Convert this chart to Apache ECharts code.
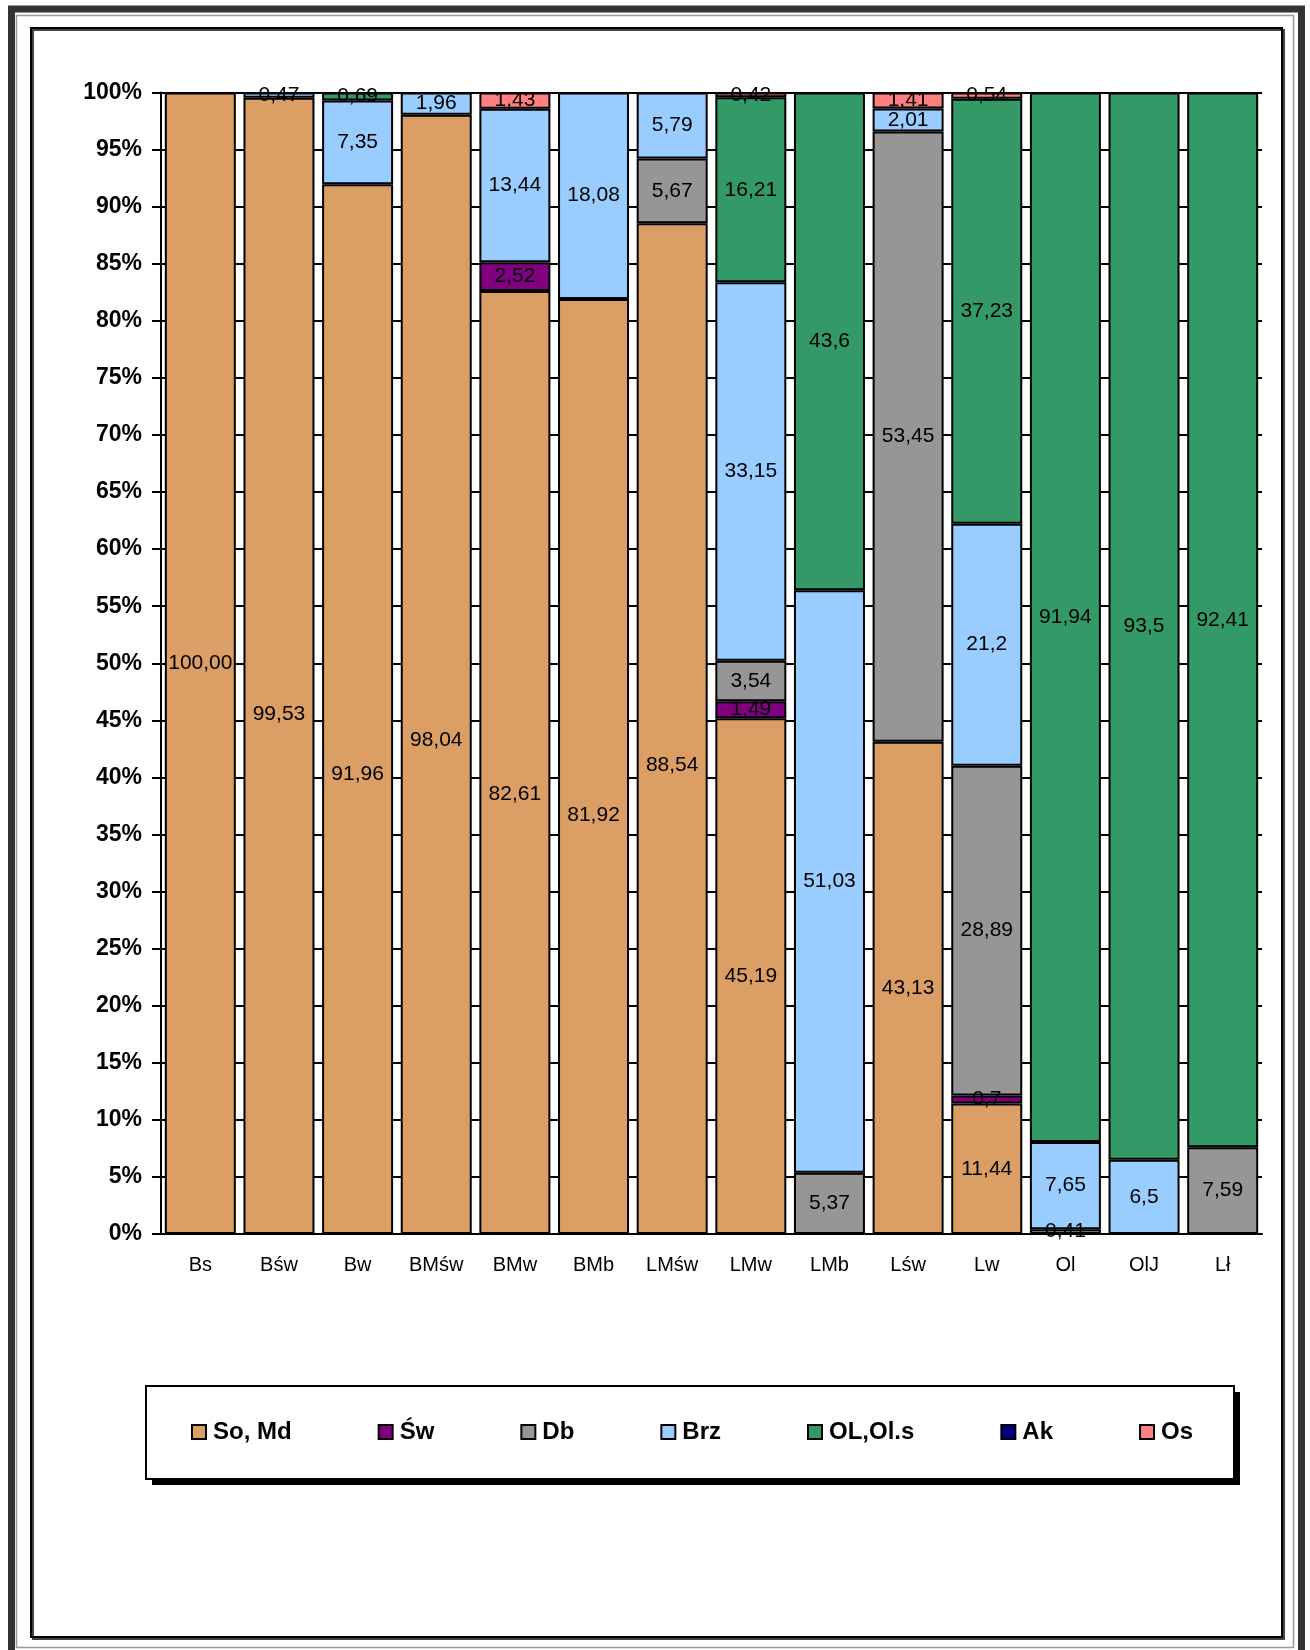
<!DOCTYPE html>
<html>
<head>
<meta charset="utf-8">
<title>Udział gatunków</title>
<script src="https://cdn.jsdelivr.net/npm/echarts@6/dist/echarts.min.js"></script>
<style>
  html, body { margin: 0; padding: 0; background: #fff; }
  #chart { width: 1310px; height: 1650px; }
</style>
</head>
<body>
<div id="chart"></div>
<script>
"use strict";
// siedliska (oś X)
var categories = ['Bs', 'Bśw', 'Bw', 'BMśw', 'BMw', 'BMb', 'LMśw', 'LMw', 'LMb', 'Lśw', 'Lw', 'Ol', 'OlJ', 'Lł'];

// udział gatunków w % ('-' = brak)
var soMd  = [100, 99.53, 91.96, 98.04, 82.61, 81.92, 88.54, 45.19, '-', 43.13, 11.44, '-', '-', '-'];
var sw    = ['-', '-', '-', '-', 2.52, '-', '-', 1.49, '-', '-', 0.7, '-', '-', '-'];
var db    = ['-', '-', '-', '-', '-', '-', 5.67, 3.54, 5.37, 53.45, 28.89, 0.41, '-', 7.59];
var brz   = ['-', 0.47, 7.35, 1.96, 13.44, 18.08, 5.79, 33.15, 51.03, 2.01, 21.2, 7.65, 6.5, '-'];
var olOls = ['-', '-', 0.69, '-', '-', '-', '-', 16.21, 43.6, '-', 37.23, 91.94, 93.5, 92.41];
var ak    = ['-', '-', '-', '-', '-', '-', '-', '-', '-', '-', '-', '-', '-', '-'];
var os    = ['-', '-', '-', '-', 1.43, '-', '-', 0.42, '-', 1.41, 0.54, '-', '-', '-'];

var seriesNames = ['So, Md', 'Św', 'Db', 'Brz', 'OL,Ol.s', 'Ak', 'Os'];
var seriesData = [soMd, sw, db, brz, olOls, ak, os];
var seriesColors = ['#DB9E64', '#800080', '#969696', '#99CCFF', '#339966', '#000080', '#FF8080'];

var fontName = 'Liberation Sans, Arial, sans-serif';

// w oryginale etykiety So, Md sa przesuniete nizej w kilku slupkach
var soLabelNudge = { 'Bśw': 48, 'Bw': 65, 'BMśw': 66, 'BMw': 32, 'BMb': 49, 'LMśw': 37 };

var fmtLabel = function (p) {
  var v = p.value;
  if (v == null || v === '-') return '';
  v = Number(v);
  return (v % 1 === 0 ? v.toFixed(2) : String(v)).replace('.', ',');
};

var series = seriesNames.map(function (name, i) {
  var data = seriesData[i].map(function (v, j) {
    var dy = i === 0 ? soLabelNudge[categories[j]] : 0;
    if (!dy) return v;
    return { value: v, label: { offset: [0, dy] } };
  });
  return {
    name: name,
    type: 'bar',
    stack: 'all',
    barWidth: 71,
    data: data,
    itemStyle: { color: seriesColors[i], borderColor: '#000', borderWidth: 2 },
    label: {
      show: true,
      position: 'inside',
      color: '#000',
      fontFamily: fontName,
      fontSize: 21,
      formatter: fmtLabel
    },
    emphasis: { disabled: true }
  };
});

var chart = echarts.init(document.getElementById('chart'));
chart.setOption({
  backgroundColor: '#fff',
  animation: false,
  graphic: [
    // ramki strony
    { type: 'rect', silent: true, shape: { x: 11.5, y: 9, width: 1290, height: 1660 },
      style: { fill: 'none', stroke: '#333', lineWidth: 7 } },
    { type: 'rect', silent: true, shape: { x: 16.5, y: 15.5, width: 1277, height: 1632 },
      style: { fill: 'none', stroke: '#999', lineWidth: 1.5 } },
    { type: 'rect', silent: true, shape: { x: 33, y: 30, width: 1251, height: 1609 },
      style: { fill: 'none', stroke: '#444', lineWidth: 2 } },
    { type: 'rect', silent: true, shape: { x: 31, y: 28, width: 1251, height: 1609 },
      style: { fill: 'none', stroke: '#000', lineWidth: 2 } },
    // ramka legendy z cieniem
    { type: 'rect', silent: true, shape: { x: 152, y: 1392, width: 1088, height: 93 },
      style: { fill: '#000' } },
    { type: 'rect', silent: true, shape: { x: 146, y: 1386, width: 1088, height: 93 },
      style: { fill: '#fff', stroke: '#000', lineWidth: 2 } }
  ],
  legend: {
    left: 191,
    top: 1420,
    padding: 0,
    itemGap: 86,
    itemWidth: 14,
    itemHeight: 14,
    icon: 'rect',
    selectedMode: false,
    textStyle: {
      color: '#000', fontFamily: fontName, fontSize: 24, fontWeight: 'bold',
      padding: [0, 0, 0, 2]
    },
    data: seriesNames
  },
  grid: { left: 161, right: 48, top: 92.5, bottom: 416 },
  xAxis: {
    type: 'category',
    data: categories,
    axisLine: { show: true, lineStyle: { color: '#000', width: 2 } },
    axisTick: { show: false },
    axisLabel: { color: '#000', fontFamily: fontName, fontSize: 20, margin: 21 }
  },
  yAxis: {
    type: 'value',
    min: 0,
    max: 100,
    interval: 5,
    axisLine: { show: true, lineStyle: { color: '#000', width: 2 } },
    axisTick: { show: true, length: 9, lineStyle: { color: '#000', width: 2 } },
    splitLine: { show: true, lineStyle: { color: '#000', width: 2 } },
    axisLabel: {
      color: '#000', fontFamily: fontName, fontSize: 23, fontWeight: 'bold', margin: 19,
      formatter: '{value}%'
    }
  },
  series: series
});
</script>
</body>
</html>
